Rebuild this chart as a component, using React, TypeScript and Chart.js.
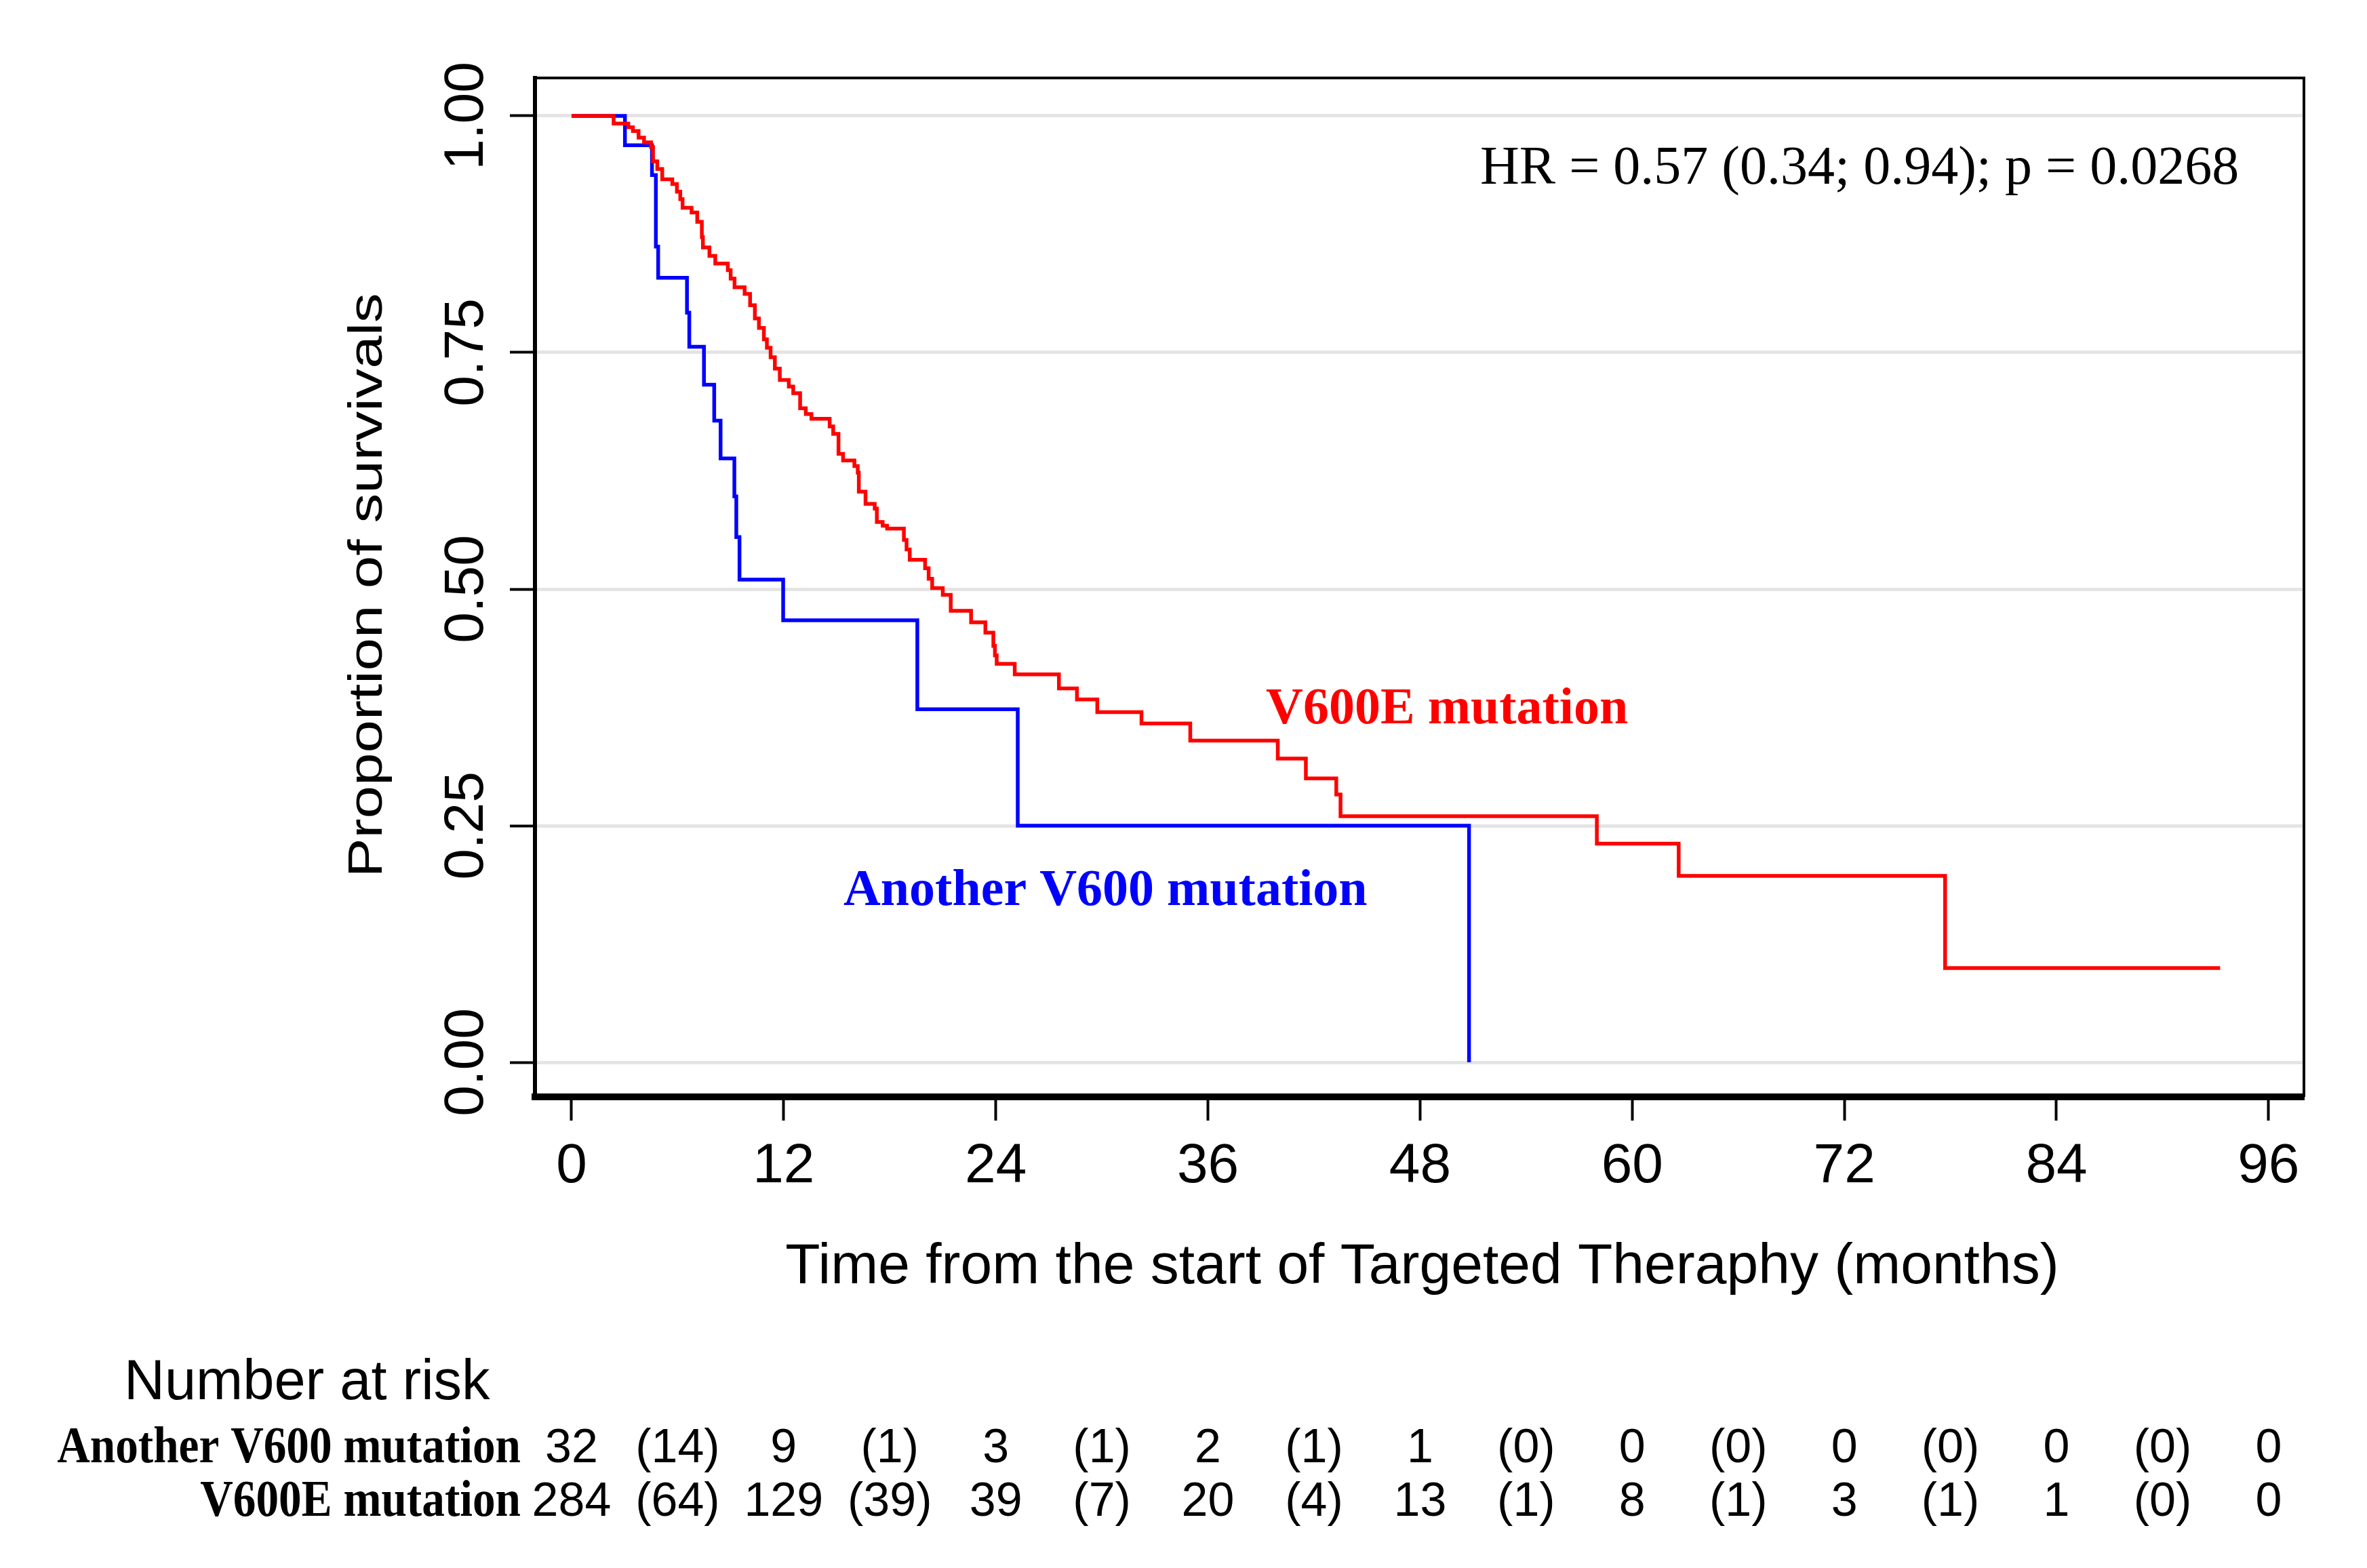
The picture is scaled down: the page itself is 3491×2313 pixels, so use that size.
import React, { useEffect, useRef } from 'react';
import { Chart, registerables } from 'chart.js';

Chart.register(...registerables);

// Kaplan–Meier step points: time (months) and survival proportion after that time
const redTimes = [0, 2.38, 3.21, 3.47, 3.79, 4.1, 4.5, 4.61, 4.85, 5.13, 5.7, 5.96, 6.15, 6.28, 6.79, 7.11, 7.37, 7.43, 7.8, 8.13, 8.84, 9.0, 9.22, 9.79, 10.1, 10.37, 10.6, 10.88, 11.05, 11.26, 11.5, 11.78, 12.29, 12.54, 12.93, 13.25, 13.57, 14.6, 14.8, 15.1, 15.36, 16.0, 16.19, 16.25, 16.63, 17.15, 17.27, 17.6, 17.85, 18.8, 18.95, 19.13, 20.0, 20.2, 20.4, 21.0, 21.45, 22.6, 23.41, 23.86, 23.95, 24.05, 25.07, 27.57, 28.59, 29.74, 32.24, 35.0, 39.95, 41.54, 43.26, 43.5, 58.0, 62.63, 77.7, 93.26];
const redSurv = [1.0, 0.992, 0.988, 0.984, 0.977, 0.972, 0.967, 0.952, 0.944, 0.933, 0.928, 0.92, 0.912, 0.903, 0.898, 0.888, 0.872, 0.861, 0.852, 0.844, 0.837, 0.828, 0.819, 0.812, 0.8, 0.786, 0.776, 0.764, 0.755, 0.745, 0.733, 0.721, 0.714, 0.707, 0.691, 0.685, 0.68, 0.672, 0.664, 0.643, 0.636, 0.63, 0.623, 0.603, 0.59, 0.585, 0.571, 0.567, 0.564, 0.552, 0.542, 0.531, 0.522, 0.511, 0.501, 0.494, 0.477, 0.465, 0.454, 0.44, 0.43, 0.421, 0.41, 0.395, 0.3835, 0.37, 0.358, 0.34, 0.321, 0.3, 0.283, 0.26, 0.231, 0.197, 0.0996, 0.0996];

const blueTimes = [0, 3.02, 4.55, 4.77, 4.9, 6.53, 6.66, 7.49, 8.07, 8.43, 9.21, 9.32, 9.5, 11.97, 19.56, 25.24, 50.77];
const blueSurv = [1.0, 0.969, 0.9375, 0.862, 0.829, 0.792, 0.756, 0.716, 0.678, 0.638, 0.598, 0.555, 0.51, 0.467, 0.373, 0.25, 0.0];

const xTickValues = [0, 12, 24, 36, 48, 60, 72, 84, 96];
const yTickValues = [0, 0.25, 0.5, 0.75, 1];
const yTickLabels = ['0.00', '0.25', '0.50', '0.75', '1.00'];

const seriesNames = ['V600E mutation', 'Another V600 mutation'];
const labelX = [39.28, 15.38];
const labelY = [0.358, 0.166];

const hrText = 'HR = 0.57 (0.34; 0.94); p = 0.0268';
const hrX = 51.4;
const hrY = 0.928;

const xTitle = 'Time from the start of Targeted Theraphy (months)';
const yTitle = 'Proportion of survivals';

const riskTitle = 'Number at risk';
const riskTimes = [0, 6, 12, 18, 24, 30, 36, 42, 48, 54, 60, 66, 72, 78, 84, 90, 96];
const riskRowNames = ['Another V600 mutation', 'V600E mutation'];
const riskAnother = ['32', '(14)', '9', '(1)', '3', '(1)', '2', '(1)', '1', '(0)', '0', '(0)', '0', '(0)', '0', '(0)', '0'];
const riskV600E = ['284', '(64)', '129', '(39)', '39', '(7)', '20', '(4)', '13', '(1)', '8', '(1)', '3', '(1)', '1', '(0)', '0'];

const SANS = '"Liberation Sans", Arial, sans-serif';
const SERIF = '"Liberation Serif", "Times New Roman", serif';

const overlayPlugin = {
  id: 'kmOverlay',
  afterDraw(chart: any) {
    const { ctx, chartArea: ca, scales } = chart;
    const xs = scales.x;
    const ys = scales.y;
    ctx.save();

    // top and right frame
    ctx.strokeStyle = '#000';
    ctx.lineWidth = 4;
    ctx.beginPath();
    ctx.moveTo(ca.left, ca.top);
    ctx.lineTo(ca.right, ca.top);
    ctx.lineTo(ca.right, ca.bottom);
    ctx.stroke();

    ctx.fillStyle = '#000';

    // y tick labels, rotated
    ctx.font = `82px ${SANS}`;
    ctx.textAlign = 'center';
    ctx.textBaseline = 'alphabetic';
    yTickValues.forEach((v, i) => {
      const py = ys.getPixelForValue(v);
      ctx.save();
      ctx.translate(ca.left - 77, py);
      ctx.rotate(-Math.PI / 2);
      ctx.fillText(yTickLabels[i], 0, 0);
      ctx.restore();
    });

    // y title
    ctx.save();
    ctx.font = `70px ${SANS}`;
    ctx.translate(ca.left - 226, (ca.top + ca.bottom) / 2 - 3);
    ctx.rotate(-Math.PI / 2);
    ctx.scale(1.245, 1);
    ctx.textAlign = 'center';
    ctx.fillText(yTitle, 0, 0);
    ctx.restore();

    // x title
    ctx.font = `84px ${SANS}`;
    ctx.textAlign = 'center';
    ctx.fillText(xTitle, (ca.left + ca.right) / 2 + 4, ca.bottom + 275);

    // HR text
    ctx.font = `80px ${SERIF}`;
    ctx.textAlign = 'left';
    ctx.fillText(hrText, xs.getPixelForValue(hrX), ys.getPixelForValue(hrY));

    // curve labels
    const labelColors = ['#ff0000', '#0000ff'];
    ctx.font = `bold 76px ${SERIF}`;
    seriesNames.forEach((name, i) => {
      ctx.fillStyle = labelColors[i];
      ctx.fillText(name, xs.getPixelForValue(labelX[i]), ys.getPixelForValue(labelY[i]));
    });

    // risk table
    ctx.fillStyle = '#000';
    ctx.font = `83px ${SANS}`;
    ctx.textAlign = 'left';
    ctx.fillText(riskTitle, 183, ca.bottom + 446);

    const rowBase = [ca.bottom + 539, ca.bottom + 618];
    const rows = [riskAnother, riskV600E];
    rows.forEach((row, r) => {
      ctx.save();
      ctx.font = `bold 76px ${SERIF}`;
      ctx.textAlign = 'right';
      ctx.translate(ca.left - 21, rowBase[r]);
      ctx.scale(0.885, 1);
      ctx.fillText(riskRowNames[r], 0, 0);
      ctx.restore();
      ctx.font = `70px ${SANS}`;
      ctx.textAlign = 'center';
      row.forEach((txt, i) => {
        ctx.fillText(txt, xs.getPixelForValue(riskTimes[i]), rowBase[r]);
      });
    });

    ctx.restore();
  },
};

export default function App() {
  const canvasRef = useRef<HTMLCanvasElement | null>(null);

  useEffect(() => {
    document.body.style.margin = '0';
    const canvas = canvasRef.current;
    if (!canvas) return;

    const chart = new Chart(canvas, {
      type: 'line',
      data: {
        datasets: [
          {
            label: seriesNames[0],
            data: redTimes.map((t, i) => ({ x: t, y: redSurv[i] })),
            borderColor: '#ff0000',
            borderWidth: 5.5,
            stepped: true,
            pointRadius: 0,
            fill: false,
          },
          {
            label: seriesNames[1],
            data: blueTimes.map((t, i) => ({ x: t, y: blueSurv[i] })),
            borderColor: '#0000ff',
            borderWidth: 5.5,
            stepped: true,
            pointRadius: 0,
            fill: false,
          },
        ],
      },
      options: {
        animation: false,
        responsive: false,
        devicePixelRatio: 1,
        layout: { padding: { left: 0, right: 93, top: 115, bottom: 0 } },
        plugins: { legend: { display: false }, tooltip: { enabled: false } },
        scales: {
          x: {
            type: 'linear',
            min: -2.07,
            max: 98.0,
            afterBuildTicks: (scale: any) => {
              scale.ticks = xTickValues.map((v) => ({ value: v }));
            },
            afterFit: (scale: any) => {
              scale.height = 695;
            },
            grid: {
              display: true,
              drawOnChartArea: false,
              drawTicks: true,
              tickLength: 35,
              tickWidth: 4,
              tickColor: '#000',
            },
            border: { display: true, width: 10, color: '#000' },
            ticks: {
              autoSkip: false,
              maxRotation: 0,
              minRotation: 0,
              padding: 19,
              color: '#000',
              font: { size: 82, family: SANS },
              callback: (v: any) => String(v),
            },
          },
          y: {
            type: 'linear',
            min: -0.0365,
            max: 1.0401,
            afterBuildTicks: (scale: any) => {
              scale.ticks = yTickValues.map((v) => ({ value: v }));
            },
            afterFit: (scale: any) => {
              scale.width = 789;
            },
            grid: {
              display: true,
              color: '#e4e4e4',
              lineWidth: 5,
              drawTicks: true,
              tickLength: 37,
              tickWidth: 4,
              tickColor: '#000',
            },
            border: { display: true, width: 6, color: '#000' },
            ticks: { display: false },
          },
        },
      },
      plugins: [overlayPlugin],
    });

    return () => chart.destroy();
  }, []);

  return (
    <div style={{ width: 3491, height: 2313, background: '#fff' }}>
      <canvas ref={canvasRef} width={3491} height={2313} style={{ width: 3491, height: 2313, display: 'block' }} />
    </div>
  );
}
